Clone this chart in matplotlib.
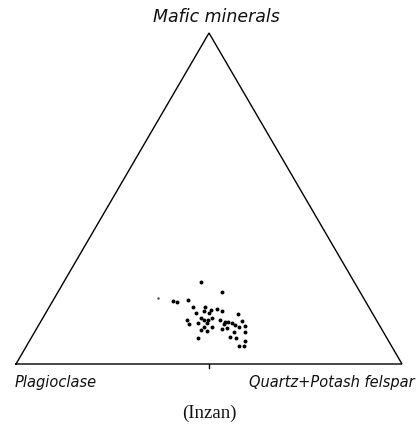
import numpy as np
import matplotlib.pyplot as plt

# modal composition (%) of the Inzan samples
mafic = [24.9, 21.8, 19.1, 18.7, 19.3, 17.2, 17.2, 16.1, 16.4, 16.5,
         15.9, 15.3, 15.3, 15.0, 13.4, 14.0, 13.3, 13.3, 13.8, 13.2,
         12.8, 12.8, 13.0, 12.5, 12.0, 12.5, 12.0, 12.3, 11.7, 11.1,
         11.5, 11.3, 10.3, 11.3, 10.0, 10.7, 10.8, 9.7, 9.8, 7.9,
         8.2, 7.9, 6.9, 5.4, 5.4]
quartz_kfs = [35.4, 42.5, 31.0, 32.4, 34.8, 37.3, 40.4, 40.6, 42.4, 43.9,
              45.3, 39.0, 42.4, 50.1, 37.7, 40.8, 42.1, 43.1, 43.8, 46.2,
              47.8, 48.6, 52.1, 41.0, 38.9, 43.3, 48.0, 49.7, 50.9, 52.2,
              53.7, 43.1, 42.8, 45.1, 44.5, 48.0, 49.3, 51.6, 54.4, 43.3,
              51.3, 53.0, 55.9, 55.2, 56.3]
plagioclase = [100 - m - q for m, q in zip(mafic, quartz_kfs)]

# a faint outlier
faint_mafic = [20.0]
faint_qk = [26.9]

H = np.sqrt(3) / 2


def tern(m, q):
    m = np.asarray(m) / 100.0
    q = np.asarray(q) / 100.0
    return q + m / 2, m * H


fig = plt.figure(figsize=(4.19, 4.28), dpi=100)
ax = fig.add_axes([0, 0, 1, 1])
ax.set_xlim(-0.04145, 1.04404)
ax.set_ylim(-0.16745, 0.95238)
ax.axis('off')

# triangle outline
ax.plot([0, 1, 0.5, 0], [0, 0, H, 0], color='black', lw=1.0,
        solid_joinstyle='miter')
# small tick at the middle of the base
ax.plot([0.5, 0.5], [0, -0.011], color='black', lw=1.0)

x, y = tern(mafic, quartz_kfs)
ax.scatter(x, y, s=8, color='black', linewidths=0)
fx, fy = tern(faint_mafic, faint_qk)
ax.scatter(fx, fy, s=3, color='#444444', linewidths=0)

lab = dict(fontstyle='italic', family='DejaVu Sans', color='#111111',
           ha='center', va='center')
fig.text(216 / 419, 1 - 17 / 428, 'Mafic minerals', fontsize=12.5, **lab)
fig.text(56 / 419, 1 - 382 / 428, 'Plagioclase', fontsize=10.5, **lab)
fig.text(332 / 419, 1 - 382 / 428, 'Quartz+Potash felspar', fontsize=10.5, **lab)
fig.text(209 / 419, 1 - 413 / 428, '(Inzan)', fontsize=13.5,
         family='Liberation Serif', ha='center', va='center', color='#111111')

fig.savefig('out.png', dpi=100, facecolor='white')
